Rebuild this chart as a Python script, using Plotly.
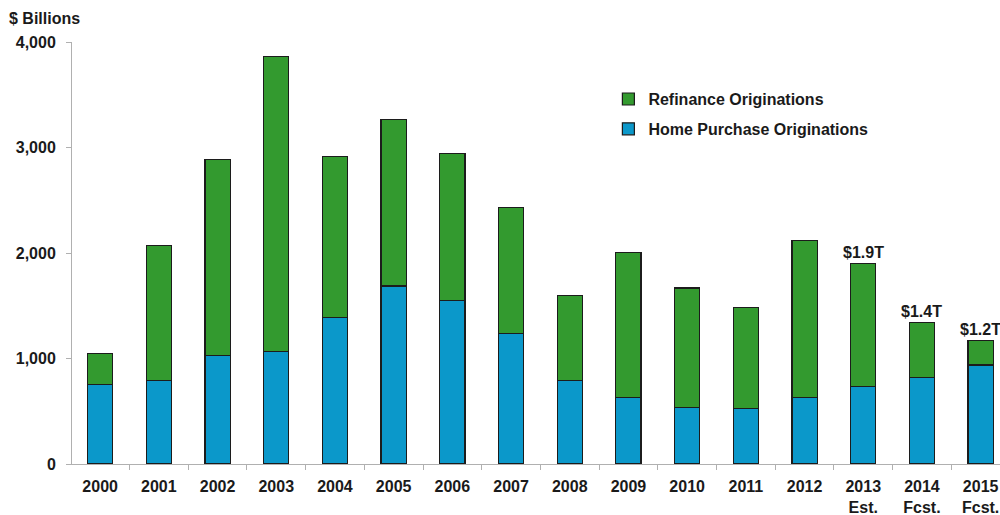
import plotly.graph_objects as go

categories = ["2000", "2001", "2002", "2003", "2004", "2005", "2006", "2007",
              "2008", "2009", "2010", "2011", "2012", "2013<br>Est.",
              "2014<br>Fcst.", "2015<br>Fcst."]
totals = [1045, 2068, 2890, 3860, 2914, 3264, 2945, 2433,
          1598, 2001, 1668, 1487, 2122, 1900, 1339, 1170]
purchase = [750, 790, 1028, 1069, 1392, 1687, 1551, 1234,
            790, 631, 536, 526, 631, 735, 821, 939]
refinance = [t - p for t, p in zip(totals, purchase)]
labels = {13: "$1.9T", 14: "$1.4T", 15: "$1.2T"}

FONT = "Liberation Sans, Arial, Helvetica, sans-serif"
GREEN = "#339a2f"
BLUE = "#0b98ca"
EDGE = "#1c1c1c"
TXT = "#1a1a1a"

fig = go.Figure()
fig.add_trace(go.Bar(x=categories, y=purchase, name="Home Purchase Originations",
                     marker=dict(color=BLUE, line=dict(color=EDGE, width=1.2)),
                     width=0.43, legendgroup="p", legendrank=2))
fig.add_trace(go.Bar(x=categories, y=refinance, name="Refinance Originations",
                     marker=dict(color=GREEN, line=dict(color=EDGE, width=1.2)),
                     width=0.43, legendgroup="r", legendrank=1))

for i, txt in labels.items():
    fig.add_annotation(x=categories[i], y=totals[i], text=txt, showarrow=False,
                       yanchor="bottom", yshift=1,
                       font=dict(family=FONT, size=16, color=TXT, weight="bold"))

fig.add_annotation(xref="paper", yref="paper", x=-0.07, y=1.0, xanchor="left",
                   yanchor="bottom", yshift=13, text="$ Billions", showarrow=False,
                   font=dict(family=FONT, size=16, color=TXT, weight="bold"))

fig.update_layout(
    width=1000, height=515,
    margin=dict(l=72, r=0, t=42, b=51),
    barmode="stack",
    plot_bgcolor="white", paper_bgcolor="white",
    legend=dict(x=0.578, y=0.905, xanchor="left", yanchor="top",
                traceorder="grouped", tracegroupgap=6,
                font=dict(family=FONT, size=16, color=TXT, weight="bold"),
                bgcolor="rgba(0,0,0,0)", itemwidth=30),
    xaxis=dict(range=[-0.48, 15.33], showline=True, linecolor="#b0b0b0", linewidth=1,
               ticks="outside", tickson="boundaries", ticklen=5, tickcolor="#b0b0b0",
               ticklabelstandoff=8,
               tickfont=dict(family=FONT, size=16, color=TXT, weight="bold"),
               showgrid=False, zeroline=False),
    yaxis=dict(range=[0, 4000], showline=True, linecolor="#b0b0b0", linewidth=1,
               ticks="outside", ticklen=5, tickcolor="#b0b0b0", tickvals=[0, 1000, 2000, 3000, 4000],
               tickformat=",d", showgrid=False, zeroline=False, ticklabelstandoff=7,
               tickfont=dict(family=FONT, size=16, color=TXT, weight="bold")),
)

fig.write_html("out.html")
